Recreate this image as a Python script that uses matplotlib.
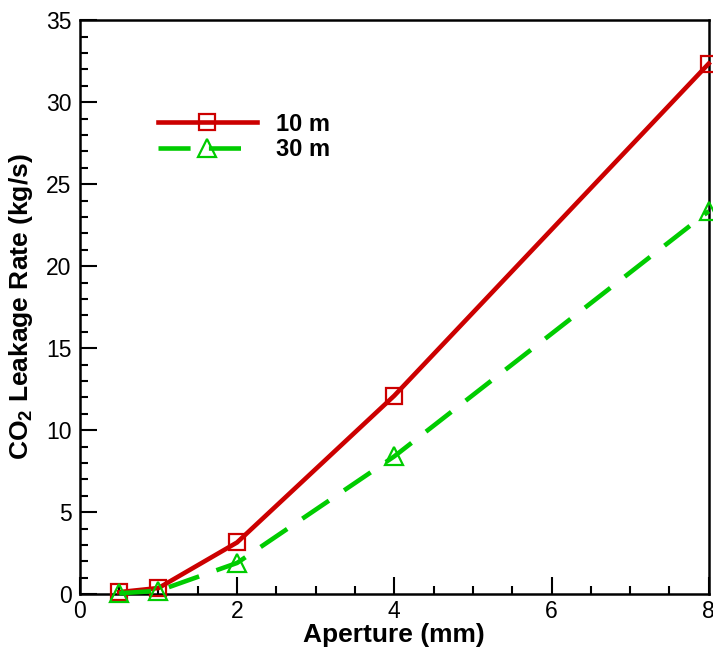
import matplotlib.pyplot as plt
from matplotlib.ticker import MultipleLocator

plt.rcParams['font.family'] = ['Liberation Sans', 'DejaVu Sans']
plt.rcParams['mathtext.fontset'] = 'custom'
plt.rcParams['mathtext.rm'] = 'Liberation Sans:bold'

# leakage rate vs fracture aperture at two depths
aperture = [0.5, 1, 2, 4, 8]
rate_10m = [0.12, 0.37, 3.15, 12.1, 32.35]
rate_30m = [0.05, 0.2, 1.9, 8.4, 23.35]

fig = plt.figure(figsize=(7.13, 6.5), dpi=100)
ax = fig.add_axes([0.112, 0.086, 0.882, 0.883])

ax.plot(aperture, rate_10m, color='#cc0000', lw=3.3, marker='s', ms=11,
        mfc='none', mec='#cc0000', mew=1.6, label='10 m', clip_on=False, zorder=3)
ax.plot(aperture, rate_30m, color='#00cc00', lw=3.3, ls=(0, (7, 4)), marker='^', ms=13,
        mfc='none', mec='#00cc00', mew=1.6, label='30 m', clip_on=False, zorder=3)

ax.set_xlim(0, 8)
ax.set_ylim(0, 35)
ax.xaxis.set_major_locator(MultipleLocator(2))
ax.xaxis.set_minor_locator(MultipleLocator(0.5))
ax.yaxis.set_major_locator(MultipleLocator(5))
ax.yaxis.set_minor_locator(MultipleLocator(1))
ax.tick_params(which='both', direction='in', width=1.5, labelsize=16.5, pad=6)
ax.tick_params(axis='x', which='both', pad=4)
ax.tick_params(which='major', length=12)
ax.tick_params(which='minor', length=6)
for s in ax.spines.values():
    s.set_linewidth(1.8)

ax.set_xlabel('Aperture (mm)', fontsize=19, fontweight='bold')
ax.xaxis.set_label_coords(0.5, -0.051)
ax.set_ylabel(r'$\mathrm{CO_2}$ Leakage Rate (kg/s)', fontsize=19, fontweight='bold', labelpad=8)

leg = ax.legend(loc='upper left', bbox_to_anchor=(0.09, 0.876), frameon=False,
                handlelength=4.2, handletextpad=0.8, labelspacing=0.1,
                prop={'weight': 'bold', 'size': 17})

fig.savefig('out.png', dpi=100)
